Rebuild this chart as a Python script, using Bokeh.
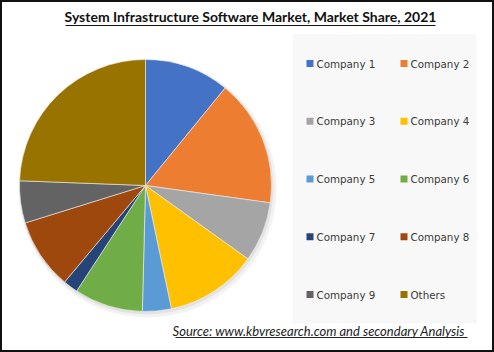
import numpy as np
from bokeh.plotting import figure
from bokeh.models import Range1d, Label, ColumnDataSource
from bokeh.core.properties import value
from bokeh.embed import file_html
from bokeh.resources import INLINE

# ---- data ----
companies = ["Company 1", "Company 2", "Company 3", "Company 4", "Company 5",
             "Company 6", "Company 7", "Company 8", "Company 9", "Others"]
shares = [10.9, 16.3, 7.7, 11.8, 3.7, 8.8, 1.9, 9.1, 5.4, 24.4]
colors = ["#4472C4", "#ED7D31", "#A5A5A5", "#FFC000", "#5B9BD5",
          "#70AD47", "#264478", "#9E480E", "#636363", "#997300"]

title_text = "System Infrastructure Software Market, Market Share, 2021"
source_text = "Source:  www.kbvresearch.com   and secondary Analysis"

# ---- layout ----
W, H = 494, 352
CX, CY, R = 145, H - 185, 126

frac = np.array(shares) / sum(shares)
cum_end = np.cumsum(frac)
cum_start = cum_end - frac
start_angle = np.pi / 2 - 2 * np.pi * cum_start
end_angle = np.pi / 2 - 2 * np.pi * cum_end

src = ColumnDataSource(dict(
    name=companies, share=shares, color=colors,
    start=start_angle, end=end_angle,
    x=[CX] * len(shares), y=[CY] * len(shares),
))

p = figure(width=W, height=H, output_backend="svg", toolbar_location=None,
           x_range=Range1d(0, W), y_range=Range1d(0, H),
           x_axis_type=None, y_axis_type=None, min_border=0)
p.grid.visible = False
p.background_fill_color = "white"
p.border_fill_color = "white"
p.outline_line_color = "#111111"
p.outline_line_width = 3

# soft shadow behind pie
p.circle(x=[CX + 2], y=[CY - 3], radius=R + 3, fill_color="black",
         fill_alpha=0.05, line_color=None)
p.circle(x=[CX + 1], y=[CY - 2], radius=R + 1, fill_color="black",
         fill_alpha=0.06, line_color=None)

p.wedge(x="x", y="y", radius=R, start_angle="start", end_angle="end",
        direction="clock", fill_color="color", line_color="#f0f0f0",
        line_width=0.6, source=src)

# ---- legend panel (2 columns, row-major) ----
p.quad(left=[292], right=[476], top=[H - 34], bottom=[H - 323],
       fill_color="#f8f8f8", line_color=None)
idx = np.arange(len(companies))
col = idx % 2
row = idx // 2
sq_x = 309.5 + col * 94
row_y = H - (63 + row * 57.75)
leg = ColumnDataSource(dict(name=companies, color=colors,
                            sx=sq_x, tx=sq_x + 6.5, y=row_y))
p.rect(x="sx", y="y", width=7, height=7, fill_color="color", line_color=None, source=leg)
p.text(x="tx", y="y", text="name", text_font=value("DejaVu Sans"),
       text_font_size="10.3px", text_color="#3a3a3a", text_baseline="middle",
       text_align="left", source=leg)

# title with underline
p.add_layout(Label(x=W / 2 + 3, y=H - 16, text=title_text, text_align="center",
                   text_baseline="middle", text_font="Lato", text_font_style="bold",
                   text_font_size="14px", text_color="#111111"))
p.segment(x0=[65], y0=[H - 25], x1=[435], y1=[H - 25], line_color="#111111", line_width=1)

# source with underline
p.add_layout(Label(x=323, y=H - 330, text=source_text, text_align="center",
                   text_baseline="middle", text_font="Lato", text_font_style="italic",
                   text_font_size="13px", text_color="#222222"))
p.segment(x0=[175], y0=[H - 337], x1=[467], y1=[H - 337], line_color="#222222", line_width=1)

open("out.html", "w").write(file_html(p, INLINE))
